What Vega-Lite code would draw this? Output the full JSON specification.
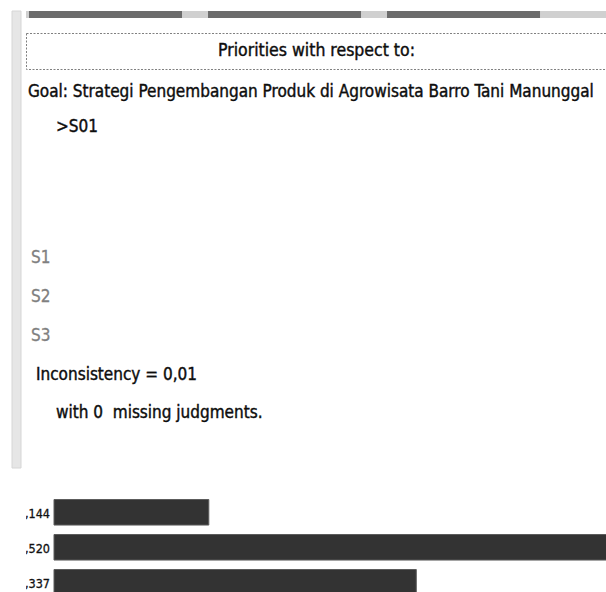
{
  "$schema": "https://vega.github.io/schema/vega-lite/v6.json",
  "padding": {"left": 11, "top": 10, "right": 0, "bottom": 0},
  "spacing": 5,
  "bounds": "flush",
  "background": "white",
  "config": {"view": {"stroke": null}, "font": "DejaVu Sans Condensed"},
  "hconcat": [
    {
      "width": 9,
      "height": 457,
      "data": {"values": [{"frame": "left edge"}]},
      "mark": {"type": "rect", "color": "#e6e6e6", "stroke": "#d6d6d6", "strokeWidth": 1},
      "encoding": {}
    },
    {
      "spacing": 15,
      "bounds": "flush",
      "vconcat": [
        {
          "width": 581,
          "height": 7,
          "data": {"values": [{"tab": "Tab 1"}, {"tab": "Tab 2"}, {"tab": "Tab 3"}]},
          "layer": [
            {"mark": {"type": "rect", "color": "#d0d0d0"}, "encoding": {}},
            {
              "mark": {"type": "rect", "color": "#6b6b6b"},
              "encoding": {
                "x": {"field": "tab", "type": "nominal", "axis": null,
                      "scale": {"paddingInner": 0.1453, "paddingOuter": 0.1955, "align": 0.043}}
              }
            }
          ]
        },
        {
          "width": 581,
          "height": 36,
          "view": {"stroke": "#808080", "strokeDash": [2, 1.5]},
          "data": {"values": [{"text": "Priorities with respect to:"}]},
          "mark": {"type": "text", "fontSize": 17.5, "color": "#0d0d0d", "stroke": "#0d0d0d", "strokeWidth": 0.4},
          "encoding": {"text": {"field": "text"}}
        },
        {
          "width": 581,
          "height": 105,
          "data": {"values": [
            {"line": "goal", "text": "Goal: Strategi Pengembangan Produk di Agrowisata Barro Tani Manunggal"},
            {"line": "path", "text": ">S01"}
          ]},
          "encoding": {
            "x": {"value": 0},
            "y": {"field": "line", "type": "nominal", "axis": null,
                  "scale": {"type": "point", "domain": ["goal", "path"], "padding": 1, "align": 0.12}},
            "text": {"field": "text"}
          },
          "layer": [
            {
              "transform": [{"filter": "datum.line === 'goal'"}],
              "mark": {"type": "text", "align": "left", "dx": 2, "fontSize": 17, "color": "#0d0d0d", "stroke": "#0d0d0d", "strokeWidth": 0.4}
            },
            {
              "transform": [{"filter": "datum.line === 'path'"}],
              "mark": {"type": "text", "align": "left", "dx": 30, "fontSize": 17, "color": "#0d0d0d", "stroke": "#0d0d0d", "strokeWidth": 0.4}
            }
          ]
        },
        {
          "width": 581,
          "height": 232.5,
          "data": {"values": [
            {"line": "S1", "text": "S1"},
            {"line": "S2", "text": "S2"},
            {"line": "S3", "text": "S3"},
            {"line": "inconsistency", "text": "Inconsistency = 0,01"},
            {"line": "missing", "text": "with 0\u00a0\u00a0missing judgments."}
          ]},
          "encoding": {
            "x": {"value": 0},
            "y": {"field": "line", "type": "nominal", "axis": null,
                  "scale": {"type": "point", "domain": ["S1", "S2", "S3", "inconsistency", "missing"], "padding": 1, "align": 0.7}},
            "text": {"field": "text"}
          },
          "layer": [
            {
              "transform": [{"filter": "indexof(['S1','S2','S3'], datum.line) >= 0"}],
              "mark": {"type": "text", "align": "left", "dx": 5, "fontSize": 17, "color": "#808080", "stroke": "#808080", "strokeWidth": 0.3}
            },
            {
              "transform": [{"filter": "datum.line === 'inconsistency'"}],
              "mark": {"type": "text", "align": "left", "dx": 10, "fontSize": 17, "color": "#0d0d0d", "stroke": "#0d0d0d", "strokeWidth": 0.4}
            },
            {
              "transform": [{"filter": "datum.line === 'missing'"}],
              "mark": {"type": "text", "align": "left", "dx": 30, "fontSize": 17, "color": "#0d0d0d", "stroke": "#0d0d0d", "strokeWidth": 0.4}
            }
          ]
        },
        {
          "width": 581,
          "height": 141.5,
          "data": {"values": [
            {"alternative": "S1", "priority": 0.144, "label": ",144"},
            {"alternative": "S2", "priority": 0.520, "label": ",520"},
            {"alternative": "S3", "priority": 0.337, "label": ",337"}
          ]},
          "encoding": {
            "y": {"field": "alternative", "type": "nominal", "axis": null,
                  "scale": {"range": [47.5, 143.05], "paddingInner": 0.27, "paddingOuter": 0}}
          },
          "layer": [
            {
              "mark": {"type": "bar", "color": "#333333", "stroke": "#5c5c5c", "strokeWidth": 1, "clip": true},
              "encoding": {
                "x": {"field": "priority", "type": "quantitative", "axis": null,
                      "scale": {"domain": [-0.02605, 0.5144], "zero": false, "nice": false}}
              }
            },
            {
              "mark": {"type": "text", "align": "right", "dx": -4, "dy": 2, "fontSize": 12.5, "color": "#111111", "stroke": "#111111", "strokeWidth": 0.3, "clip": true},
              "encoding": {
                "x": {"datum": 0, "type": "quantitative"},
                "text": {"field": "label"}
              }
            }
          ]
        }
      ]
    }
  ]
}
